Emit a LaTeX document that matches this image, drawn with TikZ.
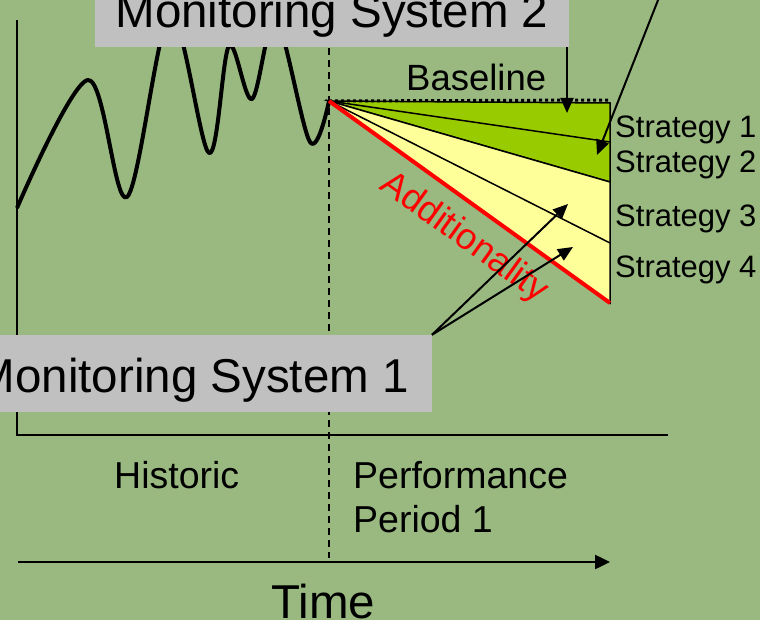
\documentclass[tikz,border=0pt]{standalone}
\usepackage{fontspec}
\setmainfont{Liberation Sans}
\usetikzlibrary{arrows.meta}
\definecolor{slideGreen}{RGB}{153,185,128}
\definecolor{cutGreen}{RGB}{153,204,0}
\definecolor{cutYellow}{RGB}{255,255,153}
\definecolor{boxGray}{RGB}{192,192,192}

\begin{document}
\begin{tikzpicture}
[x=1pt,y=-1pt,%
  axisLine/.style={-,line width=1.8pt},%
  dashLine/.style={-,line width=1.5pt,dash pattern=on 7pt off 5pt},%
  curveLine/.style={line width=4pt,line join=round},%
  fanLine/.style={-,line width=1.5pt},%
  redLine/.style={-,line width=4pt,color=red},%
  pointArrow/.style={-{Triangle[length=15pt,width=13pt]},line width=2pt},%
  grayBox/.style={fill=boxGray,inner ysep=0pt,font=\fontsize{47.5}{50}\selectfont},%
  stratLabel/.style={anchor=base west,inner sep=0pt,font=\fontsize{31}{33}\selectfont},%
  bigLabel/.style={anchor=base west,inner sep=0pt,font=\fontsize{37.5}{44}\selectfont}]
\useasboundingbox (0,0) rectangle (760,620);
\fill[slideGreen] (0,0) rectangle (760,620);
\clip (0,0) rectangle (760,620);
%% axes and time line
\coordinate (yTop) at (17,20);
\coordinate (corner) at (17,435);
\coordinate (xEnd) at (668,435);
\coordinate (dashTop) at (329,0);
\coordinate (dashBot) at (329,558);
\coordinate (timeStart) at (18,562);
\coordinate (timeEnd) at (610,562);
\draw[axisLine] (yTop) -- (corner) -- (xEnd);
\draw[dashLine] (dashTop) -- (dashBot);
\draw[-{Triangle[length=15pt,width=14pt]},line width=2.5pt] (timeStart) -- (timeEnd);
%% historic emissions
\draw[curveLine] plot[smooth,tension=0.55] coordinates
  {(17,208) (88,80) (127,197) (170,15) (209,153) (229,46) (252,99) (276,20) (310,142) (329,101)};
%% fan of strategies
\coordinate (origin) at (329,101);
\coordinate (baseEnd) at (610,100);
\foreach \name/\y in {topEnd/103, s1End/142, s2End/182, s3End/243, s4End/303}
{
  \coordinate (\name) at (610,\y);
}
\filldraw[fill=cutGreen,fanLine] (origin) -- (topEnd) -- (s2End) -- cycle;
\filldraw[fill=cutYellow,fanLine] (origin) -- (s2End) -- (s4End) -- cycle;
\path
\foreach \endnode in {s1End, s3End}
{
  (origin) edge[fanLine] (\endnode)
};
\draw[line width=3pt,dash pattern=on 3pt off 3pt] (origin) -- (baseEnd);
\draw[redLine] (origin) -- (s4End);
%% labels
\foreach \num/\y in {1/138, 2/173, 3/227, 4/277}
{
  \node[stratLabel] (strat\num) at (615,\y) {Strategy \num};
}
\node[bigLabel,font=\fontsize{36.5}{44}\selectfont] (baseline) at (406,91) {Baseline};
\node[bigLabel] (historic) at (114,488) {Historic};
\node[bigLabel] (perf) at (353,488) {Performance};
\node[bigLabel] (period) at (353,532) {Period 1};
\node[bigLabel,font=\fontsize{47.5}{50}\selectfont] (time) at (271,618) {Time};
\node[red,rotate=-35.7,font=\fontsize{36.5}{40}\selectfont] (addit) at (464,238) {Additionality};
%% monitoring boxes
\node[grayBox,anchor=base,inner xsep=20.75pt,text height=50pt,text depth=19pt] (ms2) at (332,28) {Monitoring System 2};
\node[grayBox,anchor=base east,inner xsep=23pt,text height=57pt,text depth=20pt] (ms1) at (432,392) {Monitoring System 1};
%% pointers
\coordinate (ms2Tip) at (567,113);
\coordinate (farTop) at (662,-10);
\coordinate (s2Tip) at (597,155);
\coordinate (s3Tip) at (568,204);
\coordinate (s4Tip) at (573,247);
\draw[pointArrow] (ms2.south east -| ms2Tip) -- (ms2Tip);
\draw[pointArrow] (farTop) -- (s2Tip);
\path
\foreach \tip in {s3Tip, s4Tip}
{
  (ms1.north east) edge[pointArrow] (\tip)
};
\end{tikzpicture}
\end{document}
